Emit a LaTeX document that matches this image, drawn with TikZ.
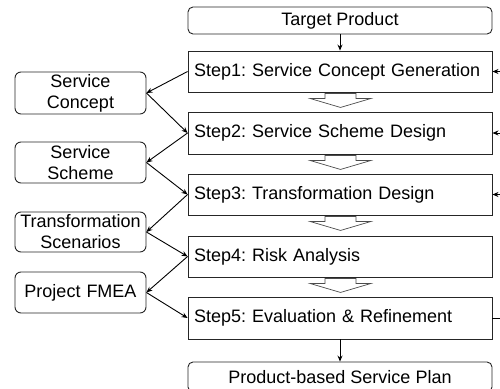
\documentclass[tikz,border=0pt]{standalone}
\usepackage{fontspec}
\setmainfont{Liberation Sans}
\usetikzlibrary{arrows.meta,calc}
\hyphenpenalty=10000
\begin{document}
\begin{tikzpicture}[x=1pt,y=-1pt,
  font=\fontsize{18}{21}\selectfont\frenchspacing,
  box/.style={draw=black!85,line width=0.9pt,inner sep=0pt},
  stepbox/.style={box,text width=292pt,inner xsep=6pt,align=left,minimum height=41pt},
  endbox/.style={box,rounded corners=5pt,minimum width=304pt},
  sidebox/.style={box,rounded corners=6pt,minimum width=131pt,text width=131pt,align=center},
  arr/.style={draw=black,line width=0.9pt,-{Stealth[length=6pt,width=5pt]}},
  ln/.style={draw=black,line width=0.9pt},
  blk/.style={draw=black!70,line width=0.7pt,fill=white}]
\useasboundingbox (0,0) rectangle (500,388);
\node[endbox,minimum height=27pt] (tp) at (340,20.5) {Target Product};
\node[stepbox] (s1) at (340,71.5) {Step1: Service Concept Generation};
\node[stepbox,minimum height=42pt] (s2) at (340,133) {Step2: Service Scheme Design};
\node[stepbox] (s3) at (340,194.5) {Step3: Transformation Design};
\node[stepbox] (s4) at (340,256.5) {Step4: Risk Analysis};
\node[stepbox,minimum height=42pt] (s5) at (340,318) {Step5: Evaluation \& Refinement};
\node[endbox,minimum height=30pt] (pp) at (340,377) {Product-based Service Plan};
\node[sidebox,minimum height=42pt] (sc) at (80.5,93) {Service\\Concept};
\node[sidebox,minimum height=41pt] (ss) at (80.5,162.5) {Service\\Scheme};
\node[sidebox,minimum height=40pt] (ts) at (80.5,232) {Transformation\\Scenarios};
\node[sidebox,minimum height=41pt] (pf) at (80.5,292.5) {Project FMEA};
\draw[arr] (tp) -- (s1);
\draw[arr] (s5) -- (pp);
\draw[arr] (s1.west) -- (sc.east);
\draw[arr] (sc.east) -- (s2.west);
\draw[arr] (s2.west) -- (ss.east);
\draw[arr] (ss.east) -- (s3.west);
\draw[arr] (s3.west) -- (ts.east);
\draw[arr] (ts.east) -- (s4.west);
\draw[arr] (s4.west) -- (pf.east);
\draw[arr] (pf.east) -- (s5.west);
\coordinate (r1) at (501,71.5);
\coordinate (r2) at (501,133);
\coordinate (r3) at (501,194.5);
\coordinate (r5) at (501,318);
\draw[arr] (r1) -- (s1.east);
\draw[arr] (r2) -- (s2.east);
\draw[arr] (r3) -- (s3.east);
\draw[ln] (s5.east) -- (r5);
\foreach \s in {s1,s2,s3,s4}{
  \draw[blk] ([shift={(-15,1)}]\s.south) -- ++(0,5) -- ++(-15,0) -- ++(30.5,9) -- ++(30.5,-9) -- ++(-15,0) -- ++(0,-5) -- cycle;
}
\end{tikzpicture}
\end{document}
